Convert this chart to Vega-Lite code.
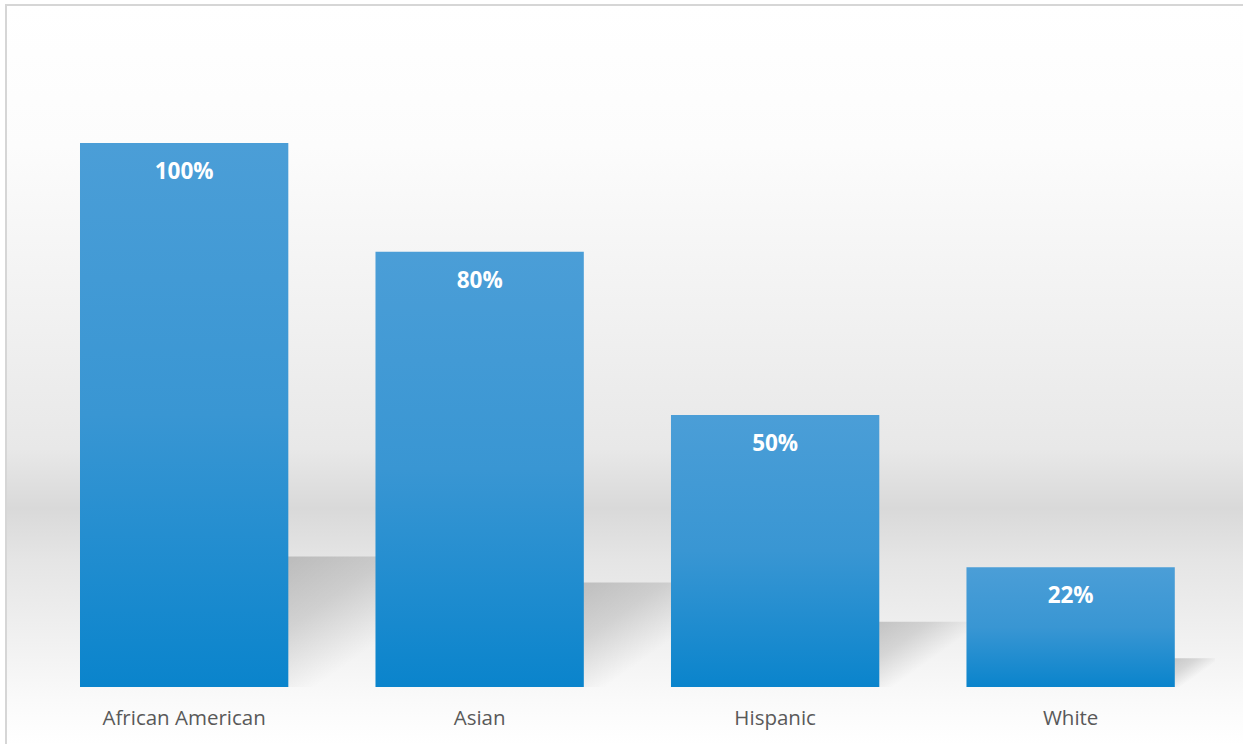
{
  "$schema": "https://vega.github.io/schema/vega-lite/v6.json",
  "width": 1240,
  "height": 740,
  "autosize": {"type": "none"},
  "padding": {"left": 6, "top": 5, "right": 0, "bottom": 0},
  "background": "#ffffff",
  "view": {
    "stroke": "#d6d6d6",
    "strokeWidth": 2,
    "fill": {
      "gradient": "linear",
      "x1": 0, "y1": 0, "x2": 0, "y2": 1,
      "stops": [
        {"offset": 0, "color": "#ffffff"},
        {"offset": 0.19, "color": "#fcfcfc"},
        {"offset": 0.4, "color": "#f2f2f2"},
        {"offset": 0.6, "color": "#e8e8e8"},
        {"offset": 0.68, "color": "#d9d9d9"},
        {"offset": 0.75, "color": "#e5e5e5"},
        {"offset": 0.86, "color": "#f1f1f1"},
        {"offset": 0.94, "color": "#fafafa"},
        {"offset": 1, "color": "#ffffff"}
      ]
    }
  },
  "data": {
    "values": [
      {"group": "African American", "value": 1.0},
      {"group": "Asian", "value": 0.8},
      {"group": "Hispanic", "value": 0.5},
      {"group": "White", "value": 0.22}
    ]
  },
  "encoding": {
    "x": {
      "field": "group",
      "type": "nominal",
      "sort": null,
      "scale": {"paddingInner": 0.295, "paddingOuter": 0.2457, "align": 0.5096},
      "axis": {
        "title": null,
        "labelAngle": 0,
        "domain": false,
        "ticks": false,
        "tickSize": 0,
        "grid": false,
        "offset": -58,
        "labelPadding": 37,
        "labelBaseline": "alphabetic",
        "labelFont": "Open Sans",
        "labelFontSize": 20.5,
        "labelColor": "#595959"
      }
    }
  },
  "layer": [
    {
      "mark": {
        "type": "bar",
        "xOffset": 104,
        "color": {
          "gradient": "linear",
          "x1": 0, "y1": 0, "x2": 1, "y2": 0.5,
          "stops": [
            {"offset": 0, "color": "rgba(0,0,0,0.2)"},
            {"offset": 0.4, "color": "rgba(0,0,0,0.18)"},
            {"offset": 0.62, "color": "rgba(0,0,0,0.12)"},
            {"offset": 0.86, "color": "rgba(0,0,0,0)"},
            {"offset": 1, "color": "rgba(0,0,0,0)"}
          ]
        }
      },
      "encoding": {
        "y": {"field": "value", "type": "quantitative", "scale": {"domain": [-0.444, 5.223], "nice": false, "zero": false}, "axis": null},
        "y2": {"datum": 0},
        "size": {"field": "value", "type": "quantitative", "scale": {"domain": [0, 1], "range": [0, 366]}, "legend": null}
      }
    },
    {
      "mark": {
        "type": "bar",
        "color": {
          "gradient": "linear",
          "x1": 0, "y1": 0, "x2": 0, "y2": 1,
          "stops": [
            {"offset": 0, "color": "#4b9ed7"},
            {"offset": 0.5, "color": "#3996d3"},
            {"offset": 1, "color": "#0a84cc"}
          ]
        }
      },
      "encoding": {
        "y": {"field": "value", "type": "quantitative", "scale": {"domain": [-0.1066, 1.2537], "nice": false, "zero": false}, "axis": null},
        "y2": {"datum": 0}
      }
    },
    {
      "mark": {
        "type": "text",
        "baseline": "alphabetic",
        "align": "center",
        "dy": 36,
        "font": "Open Sans",
        "fontSize": 22.5,
        "fontWeight": "bold",
        "color": "#ffffff"
      },
      "encoding": {
        "y": {"field": "value", "type": "quantitative", "scale": {"domain": [-0.1066, 1.2537], "nice": false, "zero": false}, "axis": null},
        "text": {"field": "value", "type": "quantitative", "format": ".0%"}
      }
    }
  ],
  "resolve": {"scale": {"y": "independent"}}
}
